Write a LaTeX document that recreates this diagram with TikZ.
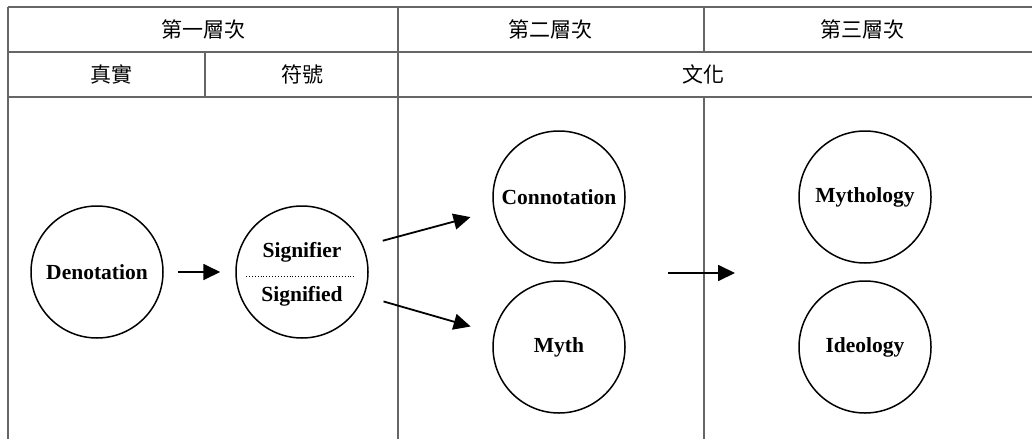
\documentclass[tikz,border=0pt]{standalone}
\usepackage{fontspec}
\setmainfont{Liberation Serif}
\newfontfamily\cjk{Noto Sans CJK TC}
\usetikzlibrary{arrows.meta}
\begin{document}
\begin{tikzpicture}[x=1pt,y=-1pt,
  grid/.style={draw=black!60, line width=1.3pt},
  ring/.style={circle, draw=black, line width=1.5pt, minimum size=132pt, inner sep=0pt, font=\fontsize{21.5}{23}\selectfont\bfseries},
  head/.style={font=\cjk\fontsize{21}{24}\selectfont, inner sep=0pt},
  lbl/.style={font=\fontsize{21.5}{23}\selectfont\bfseries, inner sep=0pt},
  arr/.style={line width=1.8pt, -{Triangle[length=17pt,width=16pt]}}]
\useasboundingbox (0,0) rectangle (1032,439);
% table lines
\draw[grid] (8,7) -- (1032,7);
\draw[grid] (8,52) -- (1032,52);
\draw[grid] (8,97) -- (1032,97);
\draw[grid] (8,7) -- (8,439);
\draw[grid] (398,7) -- (398,439);
\draw[grid] (704,7) -- (704,52);
\draw[grid] (704,97) -- (704,439);
\draw[grid] (205,52) -- (205,97);
% headers
\node[head] (h1) at (203,29) {第一層次};
\node[head] (h2) at (550,29) {第二層次};
\node[head] (h3) at (862,29) {第三層次};
\node[head] (r1) at (111,74) {真實};
\node[head] (r2) at (302,74) {符號};
\node[head] (r3) at (703,74) {文化};
% circles
\node[ring] (den) at (97,272) {Denotation};
\node[ring] (sig) at (302,272) {};
\node[lbl] (sigr) at (302,252) {Signifier};
\node[lbl] (sigd) at (302,296) {Signified};
\draw[dotted, line width=0.9pt] (246,276) -- (355,276);
\node[ring] (con) at (559,197) {Connotation};
\node[ring] (myth) at (559,347) {Myth};
\node[ring] (mytho) at (865,197) {Mythology};
\node[ring] (ideo) at (865,347) {Ideology};
% arrows
\draw[arr, shorten <=14pt, shorten >=15pt] (den) -- (sig);
\draw[arr, shorten <=20pt, shorten >=24pt] (sig.23.6) -- (con.192.7);
\draw[arr, shorten <=20pt, shorten >=24pt] (sig.-21.2) -- (myth.168.6);
\coordinate (m1) at (668,273);
\coordinate (m2) at (735,273);
\draw[arr] (m1) -- (m2);
\end{tikzpicture}
\end{document}
